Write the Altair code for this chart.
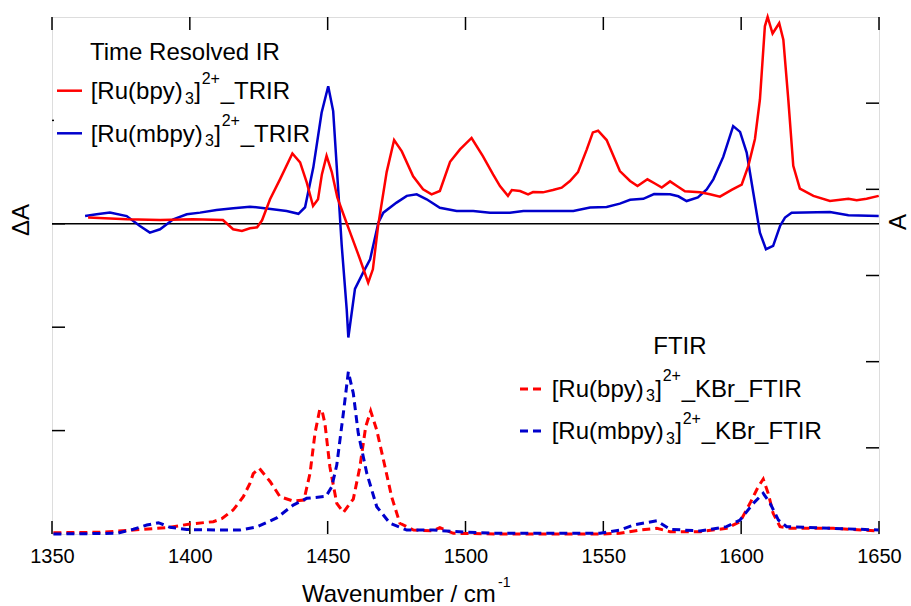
import altair as alt
import pandas as pd

# ---------------- data ----------------
x_ticks = [1350, 1400, 1450, 1500, 1550, 1600, 1650]
da_ticks = [-2, -1, 0, 1]
a_ticks = [1, 2, 3, 4, 5]

red_trir_wn = [1363.1, 1377.2, 1389.2, 1401.1, 1412.0, 1415.7, 1418.9, 1421.8, 1424.4, 1426.2,
               1429.1, 1432.7, 1437.2, 1440.0, 1442.4, 1444.7, 1446.5, 1447.9, 1449.6, 1451.5,
               1453.5, 1456.9, 1458.1, 1461.7, 1464.7, 1466.4, 1468.3, 1471.4, 1474.1, 1476.9,
               1481.0, 1484.6, 1487.7, 1490.7, 1494.4, 1498.0, 1502.2, 1506.3, 1510.0, 1512.5,
               1515.4, 1516.8, 1519.8, 1522.7, 1524.5, 1528.1, 1531.7, 1534.9, 1537.9, 1540.8,
               1544.0, 1546.2, 1548.1, 1551.2, 1556.0, 1559.7, 1562.4, 1566.0, 1568.7, 1571.2,
               1574.2, 1576.7, 1579.6, 1585.1, 1588.7, 1592.3, 1596.7, 1600.2, 1602.6, 1605.0,
               1606.8, 1608.6, 1609.6, 1611.4, 1613.8, 1615.3, 1617.1, 1618.9, 1621.3, 1626.2,
               1632.2, 1638.9, 1641.9, 1645.5, 1649.9]
red_trir_da = [0.06, 0.043, 0.037, 0.043, 0.037, -0.053, -0.07, -0.043, -0.034, 0.034,
               0.237, 0.43, 0.68, 0.594, 0.40, 0.172, 0.237, 0.478, 0.657, 0.50,
               0.256, 0.005, -0.08, -0.34, -0.57, -0.44, -0.02, 0.50, 0.81, 0.70,
               0.46, 0.333, 0.285, 0.317, 0.60, 0.72, 0.83, 0.655, 0.478, 0.365,
               0.27, 0.327, 0.317, 0.285, 0.307, 0.304, 0.327, 0.35, 0.414, 0.50,
               0.72, 0.884, 0.90, 0.81, 0.51, 0.414, 0.365, 0.43, 0.39, 0.35,
               0.41, 0.365, 0.314, 0.304, 0.285, 0.263, 0.33, 0.38, 0.56, 0.82,
               1.20, 1.91, 2.00, 1.84, 1.94, 1.78, 1.20, 0.56, 0.34, 0.27,
               0.22, 0.243, 0.227, 0.243, 0.27]

blue_trir_wn = [1362.0, 1366.2, 1371.0, 1377.1, 1381.9, 1385.5, 1389.2, 1394.0, 1398.9, 1403.7,
                1409.7, 1415.8, 1421.8, 1427.9, 1435.1, 1439.4, 1441.8, 1444.8, 1447.8, 1450.2,
                1452.0, 1453.9, 1455.1, 1456.9, 1457.5, 1459.9, 1462.9, 1465.4, 1468.4, 1470.2,
                1475.0, 1478.7, 1482.3, 1485.9, 1490.7, 1496.8, 1502.8, 1508.9, 1516.1, 1521.0,
                1539.1, 1545.2, 1551.2, 1556.0, 1559.7, 1564.5, 1568.4, 1574.2, 1577.2, 1580.2,
                1584.3, 1587.5, 1589.9, 1593.5, 1597.1, 1599.6, 1602.0, 1604.4, 1606.8, 1609.0,
                1611.6, 1614.1, 1615.9, 1618.3, 1632.2, 1638.9, 1649.9]
blue_trir_da = [0.075, 0.092, 0.108, 0.075, -0.021, -0.085, -0.053, 0.043, 0.092, 0.108,
                0.133, 0.15, 0.166, 0.147, 0.124, 0.097, 0.16, 0.546, 1.074, 1.33,
                1.09, 0.30, -0.21, -0.826, -1.10, -0.63, -0.47, -0.343, 0.012, 0.108,
                0.205, 0.27, 0.285, 0.237, 0.155, 0.124, 0.124, 0.108, 0.108, 0.124,
                0.124, 0.157, 0.162, 0.195, 0.232, 0.242, 0.288, 0.285, 0.266, 0.22,
                0.256, 0.333, 0.43, 0.647, 0.945, 0.889, 0.688, 0.30, -0.085, -0.246,
                -0.214, -0.021, 0.06, 0.108, 0.114, 0.082, 0.075]

red_ftir_wn = [1350.5, 1367.4, 1379.5, 1391.6, 1400.1, 1408.5, 1411.7, 1415.7, 1419.4, 1421.8,
               1423.0, 1425.2, 1429.1, 1432.7, 1437.5, 1441.4, 1443.6, 1445.4, 1447.1, 1447.9,
               1449.0, 1450.8, 1453.3, 1455.7, 1459.3, 1461.7, 1463.8, 1465.6, 1467.8, 1470.8,
               1473.2, 1476.2, 1481.1, 1488.3, 1490.7, 1495.6, 1512.5, 1548.8, 1556.0, 1563.3,
               1569.4, 1574.2, 1585.1, 1594.7, 1599.6, 1603.2, 1606.2, 1608.0, 1609.8, 1611.6,
               1614.1, 1617.7, 1633.4, 1649.9]
red_ftir_a = [0.015, 0.02, 0.046, 0.073, 0.116, 0.143, 0.18, 0.278, 0.433, 0.588,
              0.70, 0.762, 0.61, 0.433, 0.383, 0.394, 0.704, 1.168, 1.44, 1.44,
              1.284, 0.78, 0.356, 0.25, 0.406, 0.78, 1.245, 1.427, 1.206, 0.78,
              0.433, 0.124, 0.046, 0.038, 0.073, 0.008, 0.0, 0.0, 0.008, 0.046,
              0.066, 0.027, 0.027, 0.066, 0.143, 0.356, 0.549, 0.638, 0.472, 0.24,
              0.085, 0.066, 0.066, 0.035]

blue_ftir_wn = [1350.5, 1373.5, 1379.5, 1384.4, 1388.6, 1392.8, 1398.9, 1409.7, 1418.2, 1424.3,
                1431.5, 1437.5, 1442.4, 1449.4, 1451.5, 1453.3, 1455.7, 1457.5, 1459.3, 1461.1,
                1464.2, 1467.8, 1472.6, 1478.7, 1488.3, 1500.4, 1512.5, 1548.8, 1556.0, 1560.9,
                1569.4, 1574.2, 1585.1, 1594.7, 1599.6, 1604.4, 1608.0, 1610.5, 1613.5, 1616.5,
                1633.4, 1649.9]
blue_ftir_a = [0.0, 0.008, 0.055, 0.104, 0.131, 0.078, 0.052, 0.046, 0.046, 0.081,
               0.186, 0.336, 0.414, 0.437, 0.549, 0.80, 1.404, 1.883, 1.632, 1.168,
               0.704, 0.317, 0.124, 0.046, 0.046, 0.02, 0.008, 0.008, 0.046, 0.104,
               0.154, 0.055, 0.035, 0.085, 0.162, 0.356, 0.472, 0.356, 0.162, 0.085,
               0.066, 0.046]

# ---------------- layout / style ----------------
W, H = 827, 517          # plot area
OX, OY = 52, 17          # plot-area origin on the page
FONT = "Liberation Sans"
RED = "#ff0000"
BLUE = "#0000cc"
TICK = 13

one = pd.DataFrame({"v": [0]})


def xenc(field):
    return alt.X(
        f"{field}:Q",
        scale=alt.Scale(domain=[1350, 1650], nice=False, zero=False),
        axis=alt.Axis(values=x_ticks, title=None, grid=False, domain=False, ticks=False,
                      tickSize=0, labelFont=FONT, labelFontSize=20, labelColor="black",
                      labelPadding=28, labelBaseline="alphabetic", labelFlush=False,
                      labelOverlap=False, format="d"),
    )


def yleft(field):
    return alt.Y(f"{field}:Q", scale=alt.Scale(domain=[-3, 2], nice=False, zero=False), axis=None)


def yright(field):
    return alt.Y(f"{field}:Q", scale=alt.Scale(domain=[0, 6], nice=False, zero=False), axis=None)


def px(x):
    return alt.value(x - OX)


def py(y):
    return alt.value(y - OY)


def txt(s, x, y, size=24, angle=None, align="left", baseline="alphabetic"):
    kw = dict(text=s, align=align, baseline=baseline, fontSize=size, font=FONT, color="black")
    if angle is not None:
        kw["angle"] = angle
    return alt.Chart(one).mark_text(**kw).encode(x=px(x), y=py(y))


def legend_line(x1, x2, y, color, dash=None, width=2.5):
    kw = dict(color=color, strokeWidth=width)
    if dash:
        kw["strokeDash"] = dash
    return alt.Chart(one).mark_rule(**kw).encode(x=px(x1), x2=px(x2), y=py(y))


def formula(x0, base, name, tail, gap):
    # "[Ru(name)" + subscript 3 + "]" + superscript 2+ + tail
    return [
        txt(f"[Ru({name})", x0, base),
        txt("3", x0 + 94.3 + gap, base + 4.7, 16),
        txt("]", x0 + 103.6 + gap, base),
        txt("2+", x0 + 111.0 + gap, base - 15.3, 16),
        txt(tail, x0 + 130.0 + gap, base),
    ]


# ---------------- tables ----------------
df_rt = pd.DataFrame({"wn": red_trir_wn, "val": red_trir_da})
df_bt = pd.DataFrame({"wn": blue_trir_wn, "val": blue_trir_da})
df_rf = pd.DataFrame({"wn": red_ftir_wn, "val": red_ftir_a})
df_bf = pd.DataFrame({"wn": blue_ftir_wn, "val": blue_ftir_a})
df_xt = pd.DataFrame({"v": x_ticks})
df_dt = pd.DataFrame({"v": da_ticks})
df_at = pd.DataFrame({"v": a_ticks})

rule_kw = dict(color="black", strokeWidth=1.5)

layers = [
    alt.Chart(df_xt).mark_rule(**rule_kw).encode(x=xenc("v"), y=alt.value(H), y2=alt.value(H - TICK)),
    alt.Chart(df_xt).mark_rule(**rule_kw).encode(x=xenc("v"), y=alt.value(0), y2=alt.value(TICK)),
    alt.Chart(df_dt).mark_rule(**rule_kw).encode(y=yleft("v"), x=alt.value(0), x2=alt.value(TICK)),
    alt.Chart(df_at).mark_rule(**rule_kw).encode(y=yright("v"), x=alt.value(W - TICK), x2=alt.value(W)),
    # white legend box (hides the tick under it)
    alt.Chart(one).mark_rect(color="white").encode(x=px(54), x2=px(294), y=py(33), y2=py(149)),
    # zero line
    alt.Chart(one).mark_rule(color="black", strokeWidth=1.5).encode(y=yleft("v")),
    # FTIR (dashed, right scale)
    alt.Chart(df_rf).mark_line(color=RED, strokeWidth=3, strokeDash=[8, 5]).encode(x=xenc("wn"), y=yright("val")),
    alt.Chart(df_bf).mark_line(color=BLUE, strokeWidth=3, strokeDash=[8, 5]).encode(x=xenc("wn"), y=yright("val")),
    # TRIR (solid, left scale)
    alt.Chart(df_bt).mark_line(color=BLUE, strokeWidth=2.5).encode(x=xenc("wn"), y=yleft("val")),
    alt.Chart(df_rt).mark_line(color=RED, strokeWidth=2.5).encode(x=xenc("wn"), y=yleft("val")),
    # legends
    txt("Time Resolved IR", 90, 60),
    legend_line(57, 82, 90.7, RED),
    legend_line(57, 82, 133.3, BLUE),
    *formula(90.7, 99.3, "bpy", "_TRIR", 0),
    *formula(90.7, 141.7, "mbpy", "_TRIR", 20),
    txt("FTIR", 653.3, 354.3),
    legend_line(520, 542, 389, RED, [8, 5], 3),
    legend_line(520, 542, 431, BLUE, [8, 5], 3),
    *formula(551.7, 396.7, "bpy", "_KBr_FTIR", 0),
    *formula(551.7, 439.3, "mbpy", "_KBr_FTIR", 20),
    # axis titles
    txt("Wavenumber / cm", 302, 602),
    txt("-1", 498, 587, 14),
    txt("\u0394A", 22, 220, 24, angle=270, align="center", baseline="middle"),
    txt("A", 899, 222, 24, angle=270, align="center", baseline="middle"),
]

chart = (
    alt.layer(*layers)
    .resolve_scale(y="independent")
    .properties(width=W, height=H,
                autosize=alt.AutoSizeParams(type="none"),
                padding={"left": OX, "top": OY, "right": 911 - OX - W, "bottom": 606 - OY - H})
    .configure_view(stroke="black", strokeWidth=2)
    .configure(background="white")
)

chart.save("out.html", embed_options={"renderer": "svg", "actions": False})
